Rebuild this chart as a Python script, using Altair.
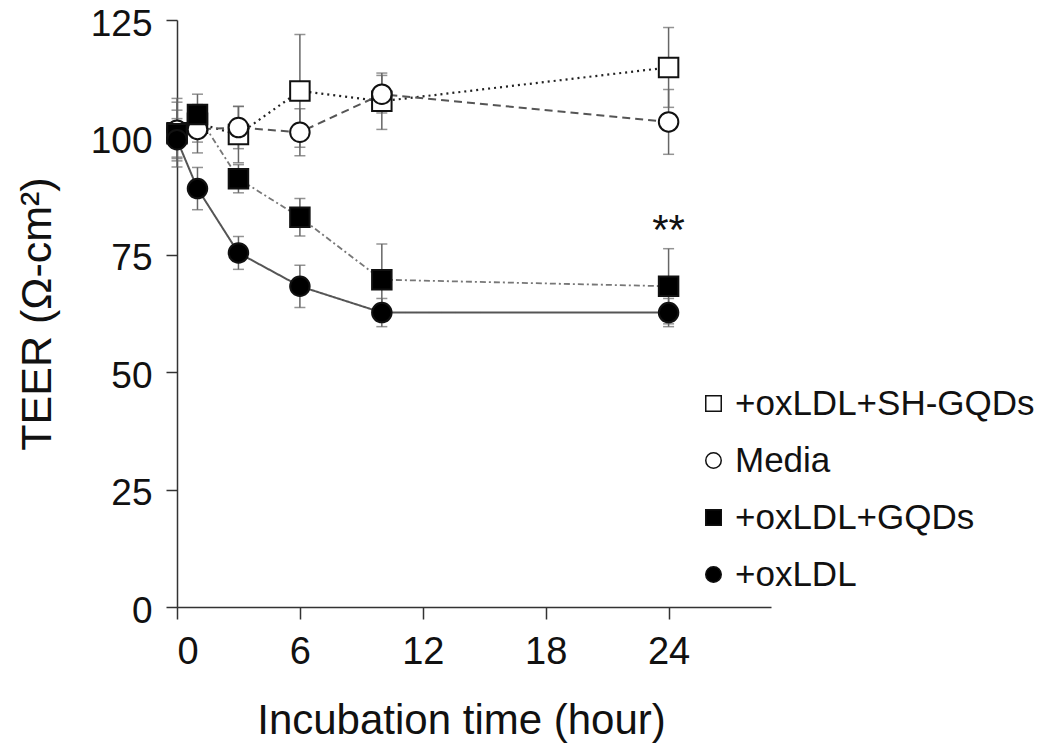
import altair as alt
import pandas as pd

series = ["+oxLDL+SH-GQDs", "Media", "+oxLDL+GQDs", "+oxLDL"]
times = [0, 1, 3, 6, 10, 24]

sh_mean = [101.0, 103.0, 100.6, 109.9, 107.7, 114.9]
sh_err = [7.3, 4.0, 6.0, 12.0, 6.0, 8.5]
media_mean = [101.5, 101.7, 102.1, 101.1, 109.2, 103.3]
media_err = [6.0, 5.0, 4.5, 5.0, 4.0, 6.9]
gqd_mean = [100.8, 104.9, 91.2, 83.0, 69.7, 68.3]
gqd_err = [5.0, 4.3, 3.0, 4.0, 7.6, 8.0]
ox_mean = [99.5, 89.1, 75.4, 68.3, 62.7, 62.7]
ox_err = [4.5, 4.5, 3.5, 4.5, 3.0, 3.0]

anno_t = [24]
anno_y = [77.4]
anno_text = ["**"]

x_ticks = [0, 6, 12, 18, 24]
y_ticks = [0, 25, 50, 75, 100, 125]

line_colors = ["#222222", "#555555", "#777777", "#555555"]
line_dashes = [[2, 4], [8, 5], [6, 3, 2, 3], [1, 0]]
line_widths = [2.2, 2, 1.8, 2]

rows = []
for name, means, errs in zip(series, [sh_mean, media_mean, gqd_mean, ox_mean],
                             [sh_err, media_err, gqd_err, ox_err]):
    for t, m, e in zip(times, means, errs):
        rows.append({"series": name, "t": t, "mean": m, "lo": m - e, "hi": m + e})
df = pd.DataFrame(rows)
anno = pd.DataFrame({"t": anno_t, "y": anno_y, "text": anno_text})

FONT = "Liberation Sans"
xscale = alt.Scale(domain=[0, 29], nice=False, zero=False)
yscale = alt.Scale(domain=[0, 125], nice=False)

xaxis = alt.Axis(values=x_ticks, title="Incubation time (hour)", grid=False,
                 tickSize=12, tickColor="#333", tickWidth=1.5, domainColor="#333",
                 domainWidth=1.5, labelFontSize=38, labelFont=FONT, labelColor="#111",
                 labelPadding=14, titleFontSize=42, titleFont=FONT, titleFontWeight="normal",
                 titleColor="#111", titleX=284, titleY=126, titleBaseline="alphabetic",
                 titleAlign="center")
yaxis = alt.Axis(values=y_ticks, title="TEER (Ω-cm²)", grid=False,
                 tickSize=11, tickColor="#333", tickWidth=1.5, domainColor="#333",
                 domainWidth=1.5, labelFontSize=37, labelFont=FONT, labelColor="#111",
                 labelPadding=14, labelOffset=4, titleFontSize=43, titleFont=FONT,
                 titleFontWeight="normal", titleColor="#111", titlePadding=31)

X = alt.X("t:Q", scale=xscale, axis=xaxis)
Y = alt.Y("mean:Q", scale=yscale, axis=yaxis)

line_layers = []
for name, col, dash, w in zip(series, line_colors, line_dashes, line_widths):
    line_layers.append(
        alt.Chart(df).transform_filter(alt.datum.series == name)
        .mark_line(stroke=col, strokeDash=dash, strokeWidth=w)
        .encode(x=X, y=Y)
    )

bars = alt.Chart(df).mark_rule(color="#666666", strokeWidth=1.5).encode(
    x=alt.X("t:Q", scale=xscale), y=alt.Y("lo:Q", scale=yscale), y2="hi:Q")
cap_lo = alt.Chart(df).mark_tick(color="#666666", thickness=1.5, size=11,
                                  orient="horizontal").encode(
    x=alt.X("t:Q", scale=xscale), y=alt.Y("lo:Q", scale=yscale))
cap_hi = alt.Chart(df).mark_tick(color="#666666", thickness=1.5, size=11,
                                  orient="horizontal").encode(
    x=alt.X("t:Q", scale=xscale), y=alt.Y("hi:Q", scale=yscale))

legend = alt.Legend(title=None, orient="none", legendX=519, legendY=366,
                    labelFontSize=35, labelFont=FONT, labelColor="#111",
                    labelLimit=500,
                    symbolSize=240, symbolStrokeWidth=1.5, symbolStrokeColor="#111",
                    labelOffset=4, rowPadding=21, padding=0)

points = alt.Chart(df).mark_point(filled=True, size=380, strokeWidth=2,
                                  stroke="#111111", opacity=1).encode(
    x=X, y=Y,
    shape=alt.Shape("series:N", scale=alt.Scale(domain=series,
                    range=["square", "circle", "square", "circle"]), legend=legend),
    color=alt.Color("series:N", scale=alt.Scale(domain=series,
                    range=["#ffffff", "#ffffff", "#000000", "#000000"]), legend=legend),
)

text = alt.Chart(anno).mark_text(fontSize=42, font=FONT, baseline="alphabetic",
                                 align="center", color="#111").encode(
    x=alt.X("t:Q", scale=xscale), y=alt.Y("y:Q", scale=yscale), text="text:N")

chart = alt.layer(*line_layers, bars, cap_lo, cap_hi, points, text).properties(
    width=594, height=587,
    autosize=alt.AutoSizeParams(type="none"),
    padding={"left": 169, "top": 12, "right": 270, "bottom": 140},
).configure(background="white").configure_view(stroke=None)

chart.save("out.html", embed_options={"renderer": "svg", "actions": False})
